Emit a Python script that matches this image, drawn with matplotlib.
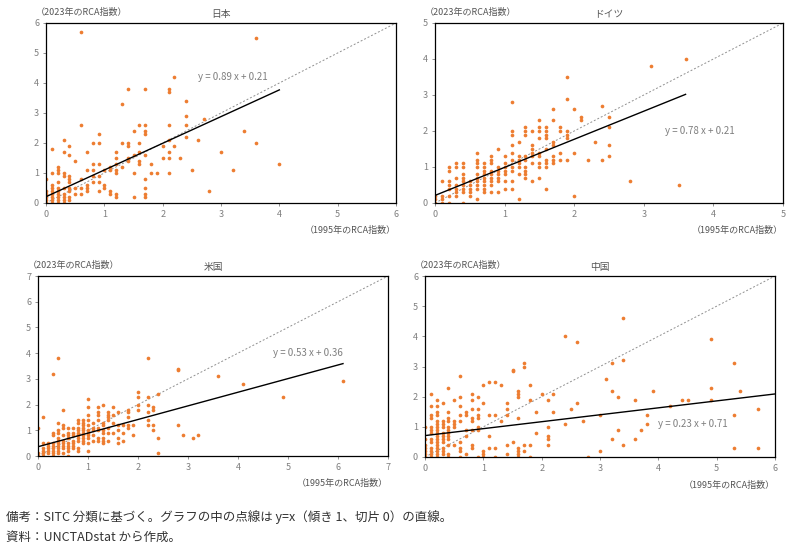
import matplotlib
matplotlib.use("Agg")
import matplotlib.pyplot as plt
import numpy as np

plt.rcParams["font.family"] = "Noto Sans CJK JP"

titles = ["日本", "ドイツ", "米国", "中国"]
axis_max = [6, 5, 7, 6]
slopes = [0.89, 0.78, 0.53, 0.23]
intercepts = [0.21, 0.21, 0.36, 0.71]
fit_xmax = [4.0, 3.6, 6.1, 6.0]
eq_pos = [(2.6, 4.2), (3.3, 2.0), (4.7, 4.0), (4.0, 1.1)]

jp_points = [(0,0.8),(0,0.4),(0,0.3),(0,0.2),(0,0.1),(0,0),(0.1,1.8),(0.1,1.0),(0.1,0.6),(0.1,0.5),(0.1,0.4),(0.1,0.3),(0.1,0.2),(0.1,0.1),(0.1,0),(0.2,1.2),(0.2,1.1),(0.2,1.0),(0.2,0.7),(0.2,0.5),(0.2,0.4),(0.2,0.3),(0.2,0.2),(0.2,0.1),(0.2,0),(0.3,2.1),(0.3,1.7),(0.3,1.0),(0.3,0.9),(0.3,0.5),(0.3,0.3),(0.3,0.2),(0.3,0.1),(0.3,0),(0.4,1.9),(0.4,1.6),(0.4,0.9),(0.4,0.8),(0.4,0.7),(0.4,0.5),(0.4,0.4),(0.4,0.2),(0.4,0.1),(0.5,1.4),(0.5,0.5),(0.5,0.3),(0.6,5.7),(0.6,2.6),(0.6,0.8),(0.6,0.5),(0.6,0.3),(0.7,1.7),(0.7,1.1),(0.7,0.6),(0.7,0.5),(0.7,0.4),(0.8,2.0),(0.8,1.3),(0.8,1.1),(0.8,0.9),(0.8,0.7),(0.9,2.3),(0.9,2.0),(0.9,1.3),(0.9,0.9),(0.9,0.7),(0.9,0.4),(1.0,1.1),(1.0,0.6),(1.0,0.5),(1.1,1.2),(1.1,1.1),(1.1,0.4),(1.1,0.3),(1.2,1.7),(1.2,1.5),(1.2,1.3),(1.2,1.1),(1.2,1.0),(1.2,0.3),(1.2,0.2),(1.3,3.3),(1.3,2.0),(1.3,1.2),(1.4,3.8),(1.4,2.0),(1.4,1.9),(1.4,1.5),(1.4,1.4),(1.5,2.4),(1.5,1.6),(1.5,1.0),(1.5,0.2),(1.6,2.6),(1.6,2.0),(1.6,1.7),(1.6,1.4),(1.6,1.3),(1.7,3.8),(1.7,2.6),(1.7,2.4),(1.7,2.3),(1.7,1.6),(1.7,0.8),(1.7,0.5),(1.7,0.3),(1.7,0.2),(1.8,1.3),(1.8,1.0),(1.9,1.0),(2.0,1.9),(2.0,1.5),(2.1,3.8),(2.1,3.7),(2.1,2.6),(2.1,2.1),(2.1,1.7),(2.1,1.5),(2.1,1.0),(2.2,4.2),(2.2,1.9),(2.3,1.5),(2.4,3.4),(2.4,2.9),(2.4,2.6),(2.4,2.2),(2.5,1.1),(2.6,2.1),(2.7,2.8),(2.8,0.4),(3.0,1.7),(3.2,1.1),(3.4,2.4),(3.6,5.5),(3.6,2.0),(4.0,1.3)]

de_points = [(0,0.2),(0,0.1),(0,0),(0.1,0.6),(0.1,0.2),(0.1,0.1),(0.1,0),(0.2,1.0),(0.2,0.9),(0.2,0.6),(0.2,0.5),(0.2,0.4),(0.2,0.2),(0.2,0),(0.3,1.1),(0.3,1.0),(0.3,0.7),(0.3,0.5),(0.3,0.4),(0.3,0.3),(0.3,0.2),(0.4,1.1),(0.4,1.0),(0.4,0.8),(0.4,0.7),(0.4,0.6),(0.4,0.5),(0.4,0.4),(0.4,0.3),(0.4,0),(0.5,0.6),(0.5,0.5),(0.5,0.4),(0.5,0.3),(0.5,0.2),(0.6,1.4),(0.6,1.2),(0.6,1.1),(0.6,1.0),(0.6,0.8),(0.6,0.7),(0.6,0.6),(0.6,0.5),(0.6,0.4),(0.6,0.1),(0.7,1.1),(0.7,1.0),(0.7,0.9),(0.7,0.8),(0.7,0.7),(0.7,0.6),(0.7,0.5),(0.7,0.4),(0.7,0.3),(0.8,1.3),(0.8,1.2),(0.8,1.1),(0.8,0.9),(0.8,0.8),(0.8,0.7),(0.8,0.6),(0.8,0.5),(0.8,0.3),(0.9,1.5),(0.9,1.0),(0.9,0.9),(0.9,0.8),(0.9,0.7),(0.9,0.6),(0.9,0.3),(1.0,1.3),(1.0,1.1),(1.0,1.0),(1.0,0.9),(1.0,0.8),(1.0,0.6),(1.0,0.4),(1.1,2.8),(1.1,2.0),(1.1,1.9),(1.1,1.6),(1.1,1.4),(1.1,1.2),(1.1,1.0),(1.1,0.9),(1.1,0.6),(1.1,0.4),(1.2,1.7),(1.2,1.3),(1.2,1.2),(1.2,1.1),(1.2,1.0),(1.2,0.8),(1.2,0.1),(1.3,2.1),(1.3,2.0),(1.3,1.9),(1.3,1.3),(1.3,1.2),(1.3,1.0),(1.3,0.9),(1.3,0.8),(1.3,0.7),(1.4,2.0),(1.4,1.6),(1.4,1.5),(1.4,1.4),(1.4,1.3),(1.4,1.1),(1.4,0.6),(1.5,2.3),(1.5,2.1),(1.5,2.0),(1.5,1.8),(1.5,1.4),(1.5,1.3),(1.5,1.1),(1.5,1.0),(1.5,0.7),(1.6,2.1),(1.6,2.0),(1.6,1.9),(1.6,1.8),(1.6,1.5),(1.6,1.2),(1.6,1.1),(1.6,1.0),(1.6,0.4),(1.7,2.6),(1.7,2.3),(1.7,1.7),(1.7,1.6),(1.7,1.3),(1.7,1.2),(1.7,1.1),(1.8,2.1),(1.8,2.0),(1.8,1.4),(1.8,1.2),(1.9,3.5),(1.9,2.9),(1.9,2.0),(1.9,1.9),(1.9,1.8),(1.9,1.2),(2.0,2.6),(2.0,1.4),(2.0,0.2),(2.1,2.4),(2.1,2.3),(2.2,1.2),(2.3,1.7),(2.4,2.7),(2.4,1.2),(2.5,2.4),(2.5,2.1),(2.5,1.6),(2.5,1.3),(2.8,0.6),(3.1,3.8),(3.5,0.5),(3.6,4.0)]

us_points = [(0,1.1),(0,0.1),(0,0),(0.1,1.5),(0.1,0.5),(0.1,0.3),(0.1,0.2),(0.1,0.1),(0.1,0),(0.2,0.5),(0.2,0.4),(0.2,0.3),(0.2,0.2),(0.2,0.1),(0.3,3.2),(0.3,0.9),(0.3,0.8),(0.3,0.5),(0.3,0.4),(0.3,0.3),(0.3,0.2),(0.3,0.1),(0.3,0),(0.4,3.8),(0.4,1.3),(0.4,1.0),(0.4,0.9),(0.4,0.7),(0.4,0.6),(0.4,0.5),(0.4,0.4),(0.4,0.3),(0.4,0.2),(0.4,0.1),(0.5,1.8),(0.5,1.2),(0.5,1.1),(0.5,0.8),(0.5,0.6),(0.5,0.5),(0.5,0.4),(0.5,0.3),(0.5,0.1),(0.6,1.1),(0.6,0.9),(0.6,0.8),(0.6,0.7),(0.6,0.5),(0.6,0.4),(0.6,0.3),(0.6,0.2),(0.6,0),(0.7,1.1),(0.7,0.9),(0.7,0.8),(0.7,0.6),(0.7,0.5),(0.7,0.4),(0.7,0.3),(0.8,1.4),(0.8,1.3),(0.8,1.1),(0.8,1.0),(0.8,0.9),(0.8,0.8),(0.8,0.7),(0.8,0.6),(0.8,0.3),(0.8,0.2),(0.9,1.4),(0.9,1.3),(0.9,1.2),(0.9,1.1),(0.9,1.0),(0.9,0.9),(0.9,0.8),(0.9,0.7),(0.9,0.6),(0.9,0.5),(1.0,2.2),(1.0,1.9),(1.0,1.6),(1.0,1.4),(1.0,1.2),(1.0,1.0),(1.0,0.9),(1.0,0.8),(1.0,0.7),(1.0,0.5),(1.0,0.2),(1.1,1.3),(1.1,1.1),(1.1,1.0),(1.1,0.8),(1.1,0.6),(1.2,1.9),(1.2,1.7),(1.2,1.6),(1.2,1.4),(1.2,1.1),(1.2,1.0),(1.2,0.7),(1.2,0.6),(1.3,2.0),(1.3,1.3),(1.3,1.2),(1.3,1.0),(1.3,0.9),(1.3,0.7),(1.3,0.6),(1.3,0.5),(1.4,1.7),(1.4,1.6),(1.4,1.5),(1.4,1.4),(1.4,1.1),(1.4,0.9),(1.4,0.6),(1.5,1.9),(1.5,1.6),(1.5,1.3),(1.5,0.9),(1.6,1.7),(1.6,1.2),(1.6,1.0),(1.6,0.7),(1.6,0.5),(1.7,1.2),(1.7,0.9),(1.7,0.6),(1.8,1.8),(1.8,1.7),(1.8,1.5),(1.8,1.2),(1.8,1.1),(1.9,1.2),(1.9,0.8),(2.0,2.5),(2.0,2.3),(2.0,2.0),(2.0,1.8),(2.2,3.8),(2.2,2.3),(2.2,2.0),(2.2,1.7),(2.2,1.4),(2.2,1.2),(2.3,1.9),(2.3,1.8),(2.3,1.2),(2.3,1.0),(2.4,2.4),(2.4,0.7),(2.4,0.1),(2.8,3.4),(2.8,3.35),(2.8,1.2),(2.9,0.8),(3.1,0.7),(3.2,0.8),(3.6,3.1),(4.1,2.8),(4.9,2.3),(6.1,2.9)]

cn_points = [(0,1.0),(0,0.6),(0,0.4),(0,0.3),(0,0.2),(0,0.1),(0,0),(0.1,2.1),(0.1,1.7),(0.1,1.4),(0.1,1.3),(0.1,1.0),(0.1,0.9),(0.1,0.8),(0.1,0.6),(0.1,0.5),(0.1,0.3),(0.1,0.2),(0.1,0.1),(0.1,0),(0.2,1.9),(0.2,1.7),(0.2,1.5),(0.2,1.4),(0.2,1.2),(0.2,1.1),(0.2,1.0),(0.2,0.9),(0.2,0.8),(0.2,0.7),(0.2,0.6),(0.2,0.5),(0.2,0.4),(0.2,0.3),(0.2,0.2),(0.2,0.1),(0.2,0),(0.3,1.8),(0.3,1.2),(0.3,1.1),(0.3,1.0),(0.3,0.8),(0.3,0.7),(0.3,0.6),(0.3,0.5),(0.3,0.3),(0.3,0.2),(0.3,0.1),(0.4,2.3),(0.4,1.5),(0.4,1.3),(0.4,1.2),(0.4,1.0),(0.4,0.9),(0.4,0.8),(0.4,0.7),(0.4,0.6),(0.4,0.4),(0.4,0.1),(0.4,0),(0.5,1.9),(0.5,1.2),(0.5,1.1),(0.5,1.0),(0.5,0.4),(0.6,2.7),(0.6,2.0),(0.6,1.7),(0.6,1.4),(0.6,1.2),(0.6,0.5),(0.6,0.3),(0.6,0.2),(0.6,0),(0.7,1.5),(0.7,1.4),(0.7,0.9),(0.7,0.7),(0.7,0.1),(0.8,2.1),(0.8,1.9),(0.8,1.6),(0.8,1.3),(0.8,1.2),(0.8,0.9),(0.8,0.4),(0.8,0.3),(0.9,2.0),(0.9,1.6),(0.9,1.4),(0.9,1.3),(0.9,1.0),(0.9,0.9),(0.9,0),(1.0,2.4),(1.0,1.8),(1.0,0.2),(1.0,0.1),(1.0,0),(1.1,2.5),(1.1,1.4),(1.1,0.7),(1.1,0.3),(1.2,2.5),(1.2,1.4),(1.2,0.3),(1.2,0),(1.3,2.4),(1.3,1.2),(1.4,1.8),(1.4,1.6),(1.4,1.4),(1.4,0.4),(1.4,0.1),(1.5,2.9),(1.5,2.85),(1.5,0.5),(1.6,2.2),(1.6,2.1),(1.6,2.0),(1.6,1.3),(1.6,0.3),(1.6,0.2),(1.6,0.1),(1.6,0),(1.7,3.1),(1.7,3.0),(1.7,0.4),(1.7,0.2),(1.8,2.4),(1.8,1.9),(1.8,0.4),(1.8,0),(1.9,1.5),(1.9,0.8),(2.0,2.1),(2.1,1.9),(2.1,1.0),(2.1,0.7),(2.1,0.6),(2.1,0.4),(2.2,2.1),(2.2,1.5),(2.4,4.0),(2.4,1.1),(2.5,1.6),(2.6,3.8),(2.6,1.8),(2.7,1.2),(2.8,0),(3.0,1.4),(3.0,0.2),(3.1,2.6),(3.2,3.1),(3.2,2.2),(3.2,0.6),(3.3,2.0),(3.3,0.9),(3.4,4.6),(3.4,3.2),(3.4,0.4),(3.6,1.9),(3.6,0.6),(3.7,0.9),(3.8,1.4),(3.8,1.1),(3.9,2.2),(4.2,1.7),(4.4,1.9),(4.5,1.9),(4.9,3.9),(4.9,2.3),(4.9,1.9),(5.3,3.1),(5.3,1.4),(5.3,0.3),(5.4,2.2),(5.7,1.6),(5.7,0.3)]

all_points = [jp_points, de_points, us_points, cn_points]

W, H = 792, 546
fig = plt.figure(figsize=(W/100, H/100), dpi=100)
# axes rects in pixels: left, top, right, bottom
rects = [(46, 23, 396, 203), (435, 23, 783, 203), (38, 276, 388, 456), (425, 276, 775, 457)]
orange = "#ED7D31"
gray = "#7f7f7f"
for i in range(4):
    l, t, r, b = rects[i]
    ax = fig.add_axes([l/W, 1 - b/H, (r-l)/W, (b-t)/H])
    m = axis_max[i]
    pts = np.array(all_points[i])
    ax.plot([0, m], [0, m], ls=(0, (2, 2)), color="#909090", lw=0.7, zorder=1)
    ax.scatter(pts[:, 0], pts[:, 1], s=7, color=orange, zorder=2, linewidths=0)
    fx = np.array([0, fit_xmax[i]])
    ax.plot(fx, slopes[i]*fx + intercepts[i], color="black", lw=1.0, zorder=3)
    ax.text(eq_pos[i][0], eq_pos[i][1], f"y = {slopes[i]:.2f} x + {intercepts[i]:.2f}",
            fontsize=7, color=gray, va="center")
    ax.set_xlim(0, m); ax.set_ylim(0, m)
    ax.set_xticks(range(m+1)); ax.set_yticks(range(m+1))
    ax.tick_params(labelsize=6.5, colors=gray, length=2, width=0.6, pad=3)
    ax.tick_params(axis="x", direction="out")
    for s in ax.spines.values():
        s.set_linewidth(0.9); s.set_color("black")
    ax.set_title(titles[i], fontsize=7, color="#555555", pad=4)
    ax.text(-0.03, 1.035, "（2023年のRCA指数）", transform=ax.transAxes, fontsize=6.5,
            color="#555555", ha="left", va="bottom")
    ax.text(1.0, -0.13, "（1995年のRCA指数）", transform=ax.transAxes, fontsize=6.5,
            color="#555555", ha="right", va="top")

fig.text(6/W, 1 - 517/H, "備考：SITC 分類に基づく。グラフの中の点線は y=x（傾き 1、切片 0）の直線。",
         fontsize=9, va="center", ha="left", color="#333333")
fig.text(6/W, 1 - 537/H, "資料：UNCTADstat から作成。", fontsize=9, va="center", ha="left", color="#333333")
fig.savefig("out.png", dpi=100)
